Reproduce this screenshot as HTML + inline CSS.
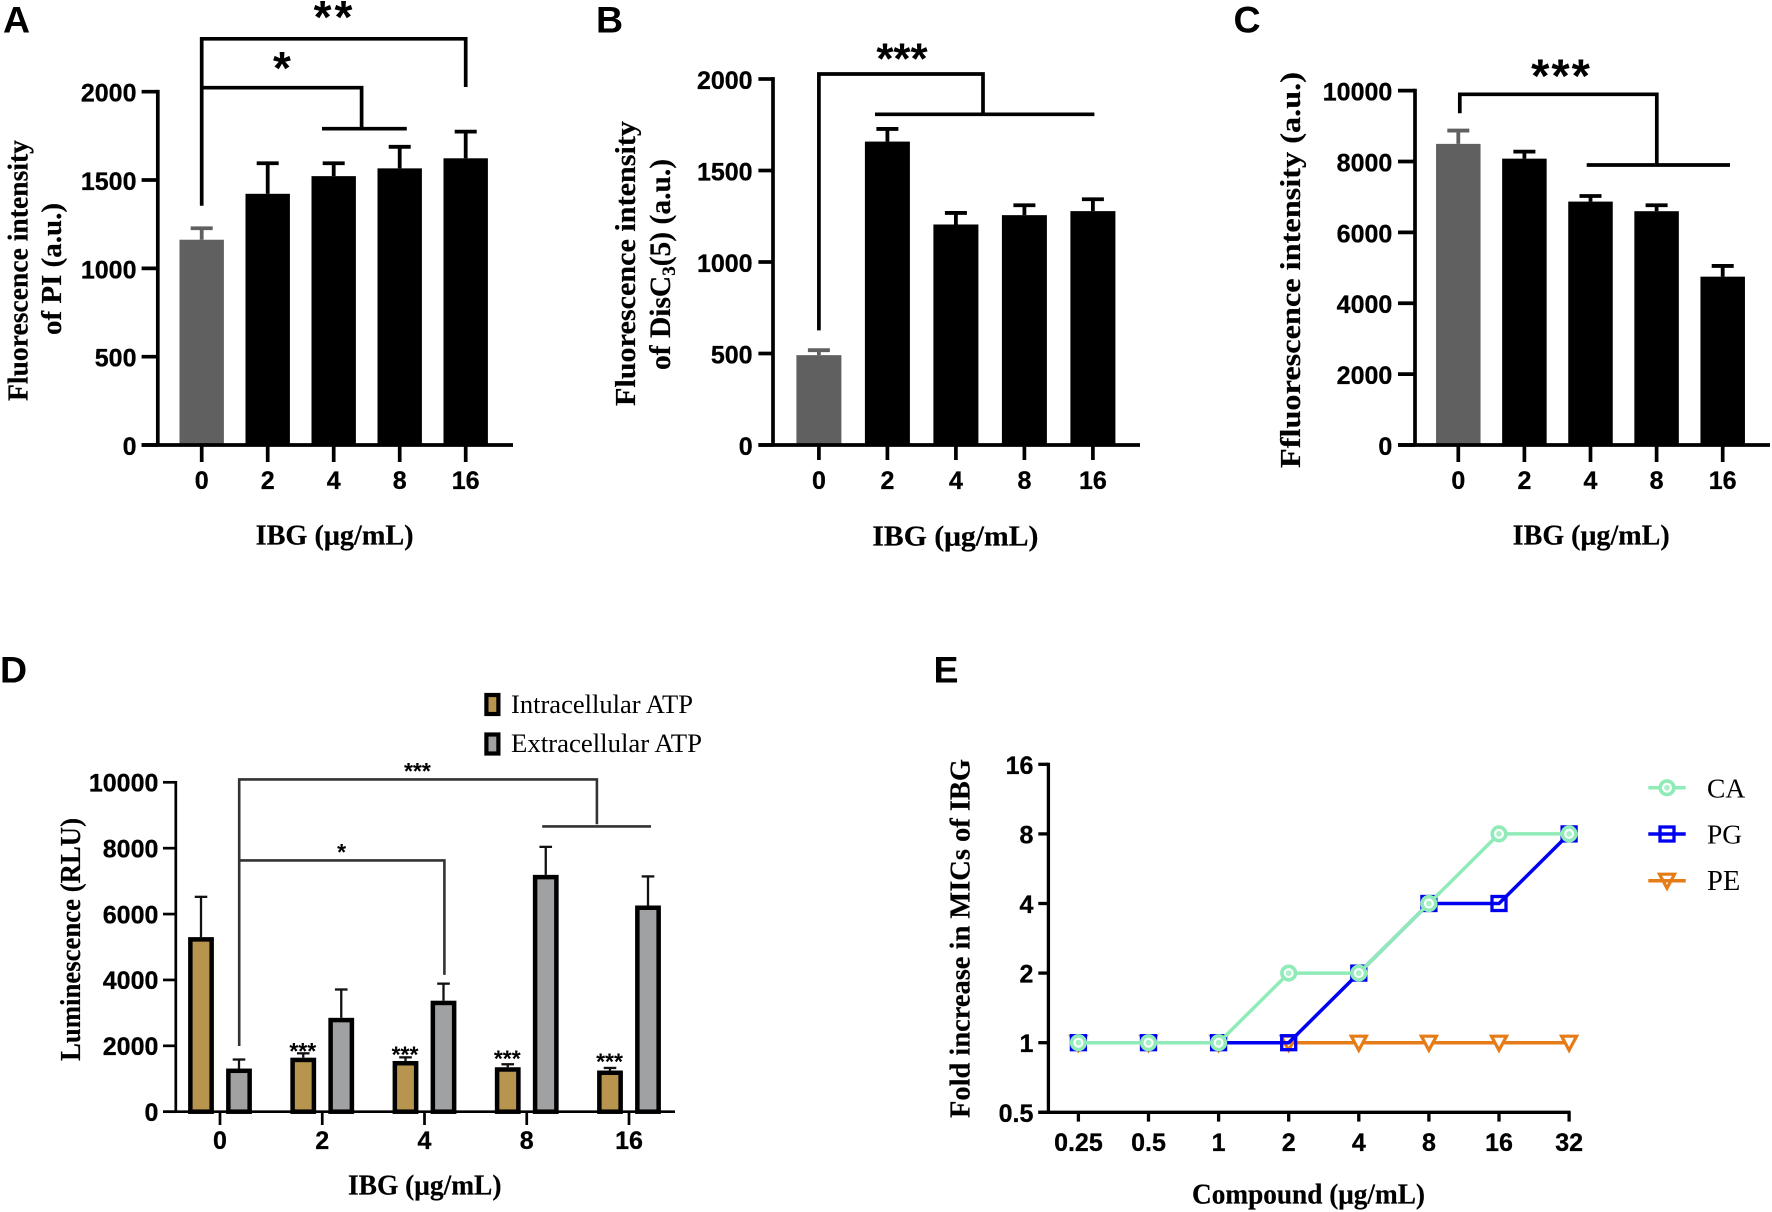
<!DOCTYPE html>
<html lang="en">
<head>
<meta charset="utf-8">
<title>IBG membrane assays, panels A to E</title>
<style>
html,body{margin:0;padding:0;background:#fff;width:1772px;height:1212px;overflow:hidden}
svg{display:block}
.tick{font-family:"Liberation Sans",sans-serif;font-weight:700;font-size:25px;fill:#000;stroke:#000;stroke-width:.3}
.title{font-family:"Liberation Serif",serif;font-weight:700;font-size:28px;fill:#000;stroke:#000;stroke-width:.2}
.letter{font-family:"Liberation Sans",sans-serif;font-weight:700;font-size:37.5px;fill:#000}
.star{font-family:"Liberation Sans",sans-serif;font-weight:700;fill:#000;text-anchor:middle}
.legend-text{font-family:"Liberation Serif",serif;font-size:26px;fill:#000}
.br{fill:none;stroke:#000;stroke-width:3.7}
.br2{fill:none;stroke:#333;stroke-width:2.6}
</style>
</head>
<body>
<svg id="figure" xmlns="http://www.w3.org/2000/svg" width="1772" height="1212" viewBox="0 0 1772 1212">
  <rect width="1772" height="1212" fill="#fff"/>

  <text class="letter" x="3" y="32.5">A</text>
  <text class="letter" x="596" y="32.5">B</text>
  <text class="letter" x="1233.5" y="32.5">C</text>
  <text class="letter" x="0" y="682.5">D</text>
  <text class="letter" x="933.5" y="682.5">E</text>

  <!-- Panel A labels and brackets -->
  <text class="title" transform="translate(27.5,401) rotate(-90)" textLength="261" lengthAdjust="spacingAndGlyphs">Fluorescence intensity</text>
  <text class="title" transform="translate(61,335) rotate(-90)" textLength="132" lengthAdjust="spacingAndGlyphs">of PI (a.u.)</text>
  <text class="title" x="255.6" y="544.6" textLength="158" lengthAdjust="spacingAndGlyphs">IBG (μg/mL)</text>
  <path class="br" d="M201.7 205.7V38.8H465.7V87"/>
  <path class="br" d="M201.7 87.7H361.6V128.7M322 128.7H406.8"/>
  <text class="star" x="334.5" y="33" font-size="46" letter-spacing="3">**</text>
  <text class="star" x="282" y="84" font-size="46">*</text>

  <!-- Panel B labels and brackets -->
  <text class="title" transform="translate(635,406) rotate(-90)" textLength="285" lengthAdjust="spacingAndGlyphs">Fluorescence intensity</text>
  <text class="title" transform="translate(670,370) rotate(-90)" style="font-size:29.5px">of DisC<tspan dy="5" style="font-size:19px">3</tspan><tspan dy="-5">(5) (a.u.)</tspan></text>
  <text class="title" x="872.4" y="545.6" textLength="166" lengthAdjust="spacingAndGlyphs">IBG (μg/mL)</text>
  <path class="br" d="M818.9 330.4V74H983V114.3M875 114.3H1094.4"/>
  <text class="star" x="902" y="73.5" font-size="44">***</text>

  <!-- Panel C labels and brackets -->
  <text class="title" transform="translate(1300,468) rotate(-90)" textLength="396" lengthAdjust="spacingAndGlyphs" style="font-size:29px">Ffluorescence intensity (a.u.)</text>
  <text class="title" x="1512.7" y="544.6" textLength="157" lengthAdjust="spacingAndGlyphs">IBG (μg/mL)</text>
  <path class="br" d="M1459.8 113.2V94.3H1656.8V165M1586.7 165H1730"/>
  <text class="star" x="1561.5" y="92" font-size="47" letter-spacing="2">***</text>

  <!-- Panel D labels, legend and brackets -->
  <text class="title" transform="translate(80,1061) rotate(-90)" textLength="243" lengthAdjust="spacingAndGlyphs">Luminescence (RLU)</text>
  <text class="title" x="348" y="1194.5" textLength="153.5" lengthAdjust="spacingAndGlyphs">IBG (μg/mL)</text>
  <path class="br2" d="M239.2 1046V779.4H596.9V824.2M542.2 826.4H651"/>
  <path class="br2" d="M239.2 860.4H444.4V974.9"/>
  <text class="star" x="417.4" y="779.2" font-size="23">***</text>
  <text class="star" x="341.6" y="860" font-size="23">*</text>
  <rect x="486.4" y="695" width="12" height="19" fill="#b8954f" stroke="#000" stroke-width="4.2"/>
  <text class="legend-text" x="511" y="713" textLength="182" lengthAdjust="spacingAndGlyphs">Intracellular ATP</text>
  <rect x="486.4" y="734.5" width="12" height="19" fill="#a0a1a3" stroke="#000" stroke-width="4.2"/>
  <text class="legend-text" x="511" y="752" textLength="191" lengthAdjust="spacingAndGlyphs">Extracellular ATP</text>

  <!-- Panel E labels -->
  <text class="title" transform="translate(969.6,1118) rotate(-90)" textLength="359" lengthAdjust="spacingAndGlyphs">Fold increase in MICs of IBG</text>
  <text class="title" x="1192" y="1203.7" textLength="233" lengthAdjust="spacingAndGlyphs">Compound (μg/mL)</text>
</svg>

<script>
const doseLabels = ['0', '2', '4', '8', '16'];

const panelATicks = [0, 500, 1000, 1500, 2000];
const panelAMeans = [1162, 1422, 1522, 1566, 1623];
const panelAErrorTops = [1227, 1595, 1595, 1688, 1774];

const panelBTicks = [0, 500, 1000, 1500, 2000];
const panelBMeans = [491, 1658, 1205, 1256, 1278];
const panelBErrorTops = [518, 1727, 1268, 1310, 1343];

const panelCTicks = [0, 2000, 4000, 6000, 8000, 10000];
const panelCMeans = [8497, 8080, 6868, 6597, 4750];
const panelCErrorTops = [8873, 8278, 7025, 6764, 5052];

const panelDTicks = [0, 2000, 4000, 6000, 8000, 10000];
const intracellularMeans = [5300, 1640, 1540, 1350, 1250];
const intracellularErrorTops = [6523, 1772, 1650, 1440, 1328];
const extracellularMeans = [1310, 2850, 3370, 7190, 6260];
const extracellularErrorTops = [1584, 3710, 3887, 8040, 7143];
const intracellularStars = ['', '***', '***', '***', '***'];
const intracellularStarLevels = [0, 1934, 1825, 1713, 1612];

const compoundLabels = ['0.25', '0.5', '1', '2', '4', '8', '16', '32'];
const foldTicks = [0.5, 1, 2, 4, 8, 16];
const seriesPE = [1, 1, 1, 1, 1, 1, 1, 1];
const seriesPG = [1, 1, 1, 1, 2, 4, 4, 8];
const seriesCA = [1, 1, 1, 2, 2, 4, 8, 8];

const svgRoot = document.getElementById('figure');
const SVGNS = 'http://www.w3.org/2000/svg';

function make(tag, attrs, parent, text) {
  const el = document.createElementNS(SVGNS, tag);
  for (const k in attrs) el.setAttribute(k, attrs[k]);
  if (text !== undefined) el.textContent = text;
  parent.appendChild(el);
  return el;
}

function linearY(layout, value) {
  return layout.y0 - (value / layout.vMax) * (layout.y0 - layout.yTop);
}

function bandX(layout, index) {
  return layout.xFirst + index * layout.xStep;
}

function drawLinearAxes(layout, ticks, labels, prefix, parent) {
  const yAxis = make('line', {x1: layout.axisX, x2: layout.axisX, y1: layout.yTop - layout.lw / 2, y2: layout.y0, stroke: '#000', 'stroke-width': layout.lw}, parent);
  
  
  const xAxis = make('line', {x1: layout.tickLeft, x2: layout.axisRight, y1: layout.y0, y2: layout.y0, stroke: '#000', 'stroke-width': layout.lw}, parent);
  
  
  ticks.forEach(function (t) {
    const y = linearY(layout, t);
    const mark = make('line', {x1: layout.tickLeft, x2: layout.axisX, y1: y, y2: y, stroke: '#000', 'stroke-width': layout.lw}, parent);
    
    
    const label = make('text', {'class': 'tick', x: layout.labelRight, y: y + layout.labelDrop, 'text-anchor': 'end'}, parent, String(t));
    
    
  });
  labels.forEach(function (lab, i) {
    const x = bandX(layout, i);
    const mark = make('line', {x1: x, x2: x, y1: layout.y0, y2: layout.tickBottom, stroke: '#000', 'stroke-width': layout.lw}, parent);
    
    
    const label = make('text', {'class': 'tick', x: x, y: layout.xLabelY, 'text-anchor': 'middle'}, parent, lab);
    
    
  });
}

function drawSimpleBars(layout, means, errorTops, labels, prefix, parent) {
  means.forEach(function (m, i) {
    const x = bandX(layout, i);
    const color = i === 0 ? '#606060' : '#000';
    const top = linearY(layout, m);
    const errTop = linearY(layout, errorTops[i]);
    const stem = make('line', {x1: x, x2: x, y1: errTop, y2: top, stroke: color, 'stroke-width': 3.8}, parent);
    
    
    const cap = make('line', {x1: x - 11, x2: x + 11, y1: errTop, y2: errTop, stroke: color, 'stroke-width': 3.8}, parent);
    
    
    const bar = make('rect', {x: x - layout.barW / 2, y: top, width: layout.barW, height: layout.y0 - top, fill: color}, parent);
    
    
  });
}

const layoutA = {axisX: 157.8, tickLeft: 141.6, axisRight: 513, y0: 445, yTop: 91.7, vMax: 2000, xFirst: 201.7, xStep: 66, barW: 44.4, lw: 3.7, tickBottom: 462, labelRight: 136.5, labelDrop: 10, xLabelY: 489};
const layoutB = {axisX: 773, tickLeft: 758.4, axisRight: 1140, y0: 445, yTop: 79, vMax: 2000, xFirst: 818.9, xStep: 68.5, barW: 45, lw: 3.7, tickBottom: 460, labelRight: 752.6, labelDrop: 10, xLabelY: 489};
const layoutC = {axisX: 1415, tickLeft: 1398, axisRight: 1770, y0: 445, yTop: 90.6, vMax: 10000, xFirst: 1458.3, xStep: 66.1, barW: 44.5, lw: 3.7, tickBottom: 462, labelRight: 1392.3, labelDrop: 10, xLabelY: 489};

const groupA = make('g', {}, svgRoot);


drawSimpleBars(layoutA, panelAMeans, panelAErrorTops, doseLabels, 'panel-a', groupA);
drawLinearAxes(layoutA, panelATicks, doseLabels, 'panel-a', groupA);

const groupB = make('g', {}, svgRoot);


drawSimpleBars(layoutB, panelBMeans, panelBErrorTops, doseLabels, 'panel-b', groupB);
drawLinearAxes(layoutB, panelBTicks, doseLabels, 'panel-b', groupB);

const groupC = make('g', {}, svgRoot);


drawSimpleBars(layoutC, panelCMeans, panelCErrorTops, doseLabels, 'panel-c', groupC);
drawLinearAxes(layoutC, panelCTicks, doseLabels, 'panel-c', groupC);

/* Panel D: grouped bars */
const layoutD = {axisX: 175.8, tickLeft: 163, axisRight: 675, y0: 1111.7, yTop: 782.3, vMax: 10000, xFirst: 220, xStep: 102.25, lw: 2.7, tickBottom: 1125, labelRight: 158.4, labelDrop: 9.3, xLabelY: 1149, barW: 25.8, groupOffset: 19};
const groupD = make('g', {}, svgRoot);



function drawGroupedSeries(means, errorTops, fill, offset, seriesName) {
  means.forEach(function (m, i) {
    const x = bandX(layoutD, i) + offset;
    const top = linearY(layoutD, m);
    const errTop = linearY(layoutD, errorTops[i]);
    const stem = make('line', {x1: x, x2: x, y1: errTop, y2: top, stroke: '#111', 'stroke-width': 2.3}, groupD);
    
    
    const cap = make('line', {x1: x - 6.3, x2: x + 6.3, y1: errTop, y2: errTop, stroke: '#111', 'stroke-width': 2.3}, groupD);
    
    
    const bw = 4.5;
    const bar = make('rect', {x: x - layoutD.barW / 2 + bw / 2, y: top + bw / 2, width: layoutD.barW - bw, height: layoutD.y0 - top - bw / 2, fill: fill, stroke: '#000', 'stroke-width': bw}, groupD);
    
    
  });
}
drawGroupedSeries(intracellularMeans, intracellularErrorTops, '#b8954f', -layoutD.groupOffset, 'intracellular');
drawGroupedSeries(extracellularMeans, extracellularErrorTops, '#a0a1a3', layoutD.groupOffset, 'extracellular');
drawLinearAxes(layoutD, panelDTicks, doseLabels, 'panel-d', groupD);

intracellularStars.forEach(function (s, i) {
  if (!s) return;
  const x = bandX(layoutD, i) - layoutD.groupOffset - 0.5;
  const star = make('text', {'class': 'star', x: x, y: linearY(layoutD, intracellularStarLevels[i]) + 11, 'font-size': 23}, groupD, s);
  
  
});

/* Panel E: log2 line chart */
const layoutE = {axisX: 1048.4, tickLeft: 1038.3, y0: 1112.3, yStep: 69.6, xFirst: 1078.4, xStep: 70.1, lw: 3.3, tickBottom: 1121.6, labelRight: 1033.4, xLabelY: 1151};
function logY(value) {
  return layoutE.y0 - (Math.log2(value) + 1) * layoutE.yStep;
}
function catX(index) {
  return layoutE.xFirst + index * layoutE.xStep;
}
const groupE = make('g', {}, svgRoot);



const eYAxis = make('line', {x1: layoutE.axisX, x2: layoutE.axisX, y1: logY(16) - 1.5, y2: layoutE.y0, stroke: '#000', 'stroke-width': layoutE.lw}, groupE);


const eXAxis = make('line', {x1: layoutE.tickLeft, x2: catX(compoundLabels.length - 1) + 1.5, y1: layoutE.y0, y2: layoutE.y0, stroke: '#000', 'stroke-width': layoutE.lw}, groupE);



foldTicks.forEach(function (t) {
  const y = logY(t);
  const mark = make('line', {x1: layoutE.tickLeft, x2: layoutE.axisX, y1: y, y2: y, stroke: '#000', 'stroke-width': layoutE.lw}, groupE);
  
  
  const label = make('text', {'class': 'tick', x: layoutE.labelRight, y: y + 9.5, 'text-anchor': 'end'}, groupE, String(t));
  
  
});
compoundLabels.forEach(function (lab, i) {
  const x = catX(i);
  const mark = make('line', {x1: x, x2: x, y1: layoutE.y0, y2: layoutE.tickBottom, stroke: '#000', 'stroke-width': layoutE.lw}, groupE);
  
  
  const label = make('text', {'class': 'tick', x: x, y: layoutE.xLabelY, 'text-anchor': 'middle'}, groupE, lab);
  
  
});

const colorCA = '#8fecb8';
const colorPG = '#0000f0';
const colorPE = '#e57c17';

function drawTriangle(x, y, parent) {
  return make('polygon', {points: (x - 7.5) + ',' + (y - 6.5) + ' ' + (x + 7.5) + ',' + (y - 6.5) + ' ' + x + ',' + (y + 7.5), fill: '#fff', stroke: colorPE, 'stroke-width': 3.2}, parent);
}
function drawSquare(x, y, parent) {
  return make('rect', {x: x - 7, y: y - 7, width: 14, height: 14, fill: 'none', stroke: colorPG, 'stroke-width': 3.3}, parent);
}
function drawCircle(x, y, parent) {
  const g = make('g', {}, parent);
  make('circle', {cx: x, cy: y, r: 6.8, fill: '#fff', stroke: colorCA, 'stroke-width': 3.6}, g);
  make('circle', {cx: x, cy: y, r: 2.9, fill: '#a9f0c9'}, g);
  return g;
}
function polyline(values, color, parent) {
  const pts = values.map(function (v, i) { return catX(i) + ',' + logY(v); }).join(' ');
  return make('polyline', {points: pts, fill: 'none', stroke: color, 'stroke-width': 3.5}, parent);
}

const linePE = polyline(seriesPE, colorPE, groupE);


seriesPE.forEach(function (v, i) {
  const m = drawTriangle(catX(i), logY(v), groupE);
  
  
});
const linePG = polyline(seriesPG, colorPG, groupE);


seriesPG.forEach(function (v, i) {
  const m = drawSquare(catX(i), logY(v), groupE);
  
  
});
const lineCA = polyline(seriesCA, colorCA, groupE);


seriesCA.forEach(function (v, i) {
  const m = drawCircle(catX(i), logY(v), groupE);
  
  
});

/* Panel E legend */
const legendE = make('g', {}, svgRoot);



const caLegendLine = make('line', {x1: 1648.3, x2: 1685.7, y1: 787.7, y2: 787.7, stroke: colorCA, 'stroke-width': 3.5}, legendE);


const caLegendMark = drawCircle(1667, 787.7, legendE);


const caLegendText = make('text', {'class': 'legend-text', x: 1707, y: 797.3, style: 'font-size:27.5px'}, legendE, 'CA');



const pgLegendLine = make('line', {x1: 1648.3, x2: 1685.7, y1: 834, y2: 834, stroke: colorPG, 'stroke-width': 3.5}, legendE);


const pgLegendMark = drawSquare(1667, 834, legendE);


const pgLegendText = make('text', {'class': 'legend-text', x: 1707, y: 843.3, style: 'font-size:27.5px'}, legendE, 'PG');



const peLegendLine = make('line', {x1: 1648.3, x2: 1685.7, y1: 880.7, y2: 880.7, stroke: colorPE, 'stroke-width': 3.5}, legendE);


const peLegendMark = drawTriangle(1667, 880.7, legendE);
peLegendMark.setAttribute('fill', 'none');


const peLegendText = make('text', {'class': 'legend-text', x: 1707, y: 890, style: 'font-size:28.5px'}, legendE, 'PE');


</script>
</body>
</html>
